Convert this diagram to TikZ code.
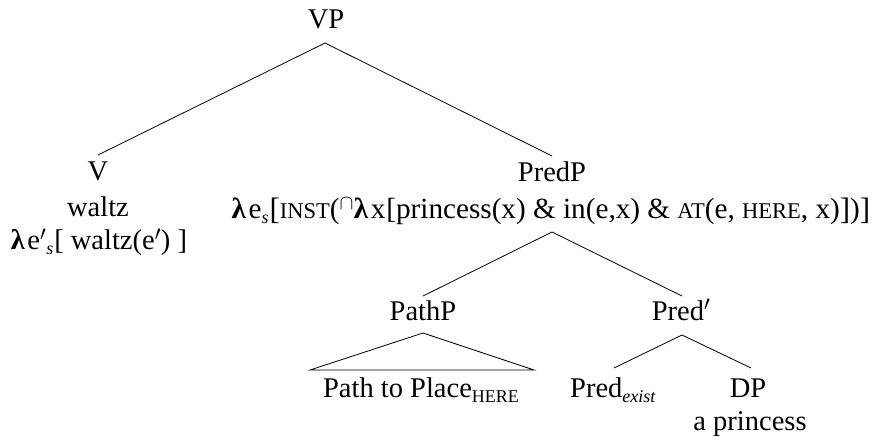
\documentclass[tikz,border=0pt]{standalone}
\usepackage{fontspec}
\setmainfont{Liberation Serif}
\newcommand\fsc[1]{{\fontsize{22.5}{22.5}\selectfont #1}}
\newcommand\subsc[1]{\raisebox{-5pt}{\fontsize{18}{18}\selectfont #1}}
\newcommand\lam{{\bfseries λ}\kern2.5pt}
\newcommand\bigbr[1]{\raisebox{-1pt}{\fontsize{31}{31}\selectfont #1}}
\begin{document}
\begin{tikzpicture}[x=1pt,y=-1pt,
  lbl/.style={anchor=base, inner sep=0pt, font=\fontsize{28.5}{34}\selectfont},
  edge/.style={line width=0.8pt}]
\useasboundingbox (0,0) rectangle (880,438);
% nodes
\node[lbl] (VP) at (326,29) {VP};
\node[lbl] (V) at (98,181) {V};
\node[lbl] (waltz) at (98,217) {waltz};
\node[lbl] (Vsem) at (99,250) {\lam e$'$\subsc{\textit{s}}\kern1pt[ waltz(e$'$) ]};
\node[lbl] (PredP) at (552,182) {PredP};
\node[lbl, font=\fontsize{29.2}{34}\selectfont] (PredPsem) at (551,219) {\lam e\subsc{\textit{s}}\kern1pt\bigbr{[}\fsc{INST}($^{\cap}$\lam x\kern1pt[princess(x) \& in(e,x) \& \fsc{AT}(e, \fsc{HERE}, x)\bigbr{]})\bigbr{]}};
\node[lbl] (PathP) at (423,320) {PathP};
\node[lbl] (Predbar) at (681,320) {Pred$'$};
\node[lbl] (Path) at (421,397) {Path to Place\subsc{HERE}};
\node[lbl] (Predex) at (613,397) {Pred\subsc{\textit{exist}}};
\node[lbl] (DP) at (748,397) {DP};
\node[lbl] (prin) at (750,430) {a princess};
% connector end points
\coordinate (VPb) at (325,43);
\coordinate (Vt) at (98,155);
\coordinate (PredPt) at (552,156);
\coordinate (PredPb) at (552,232);
\coordinate (PathPt) at (423,296);
\coordinate (Predbart) at (682,296);
\coordinate (PathPb) at (423,333);
\coordinate (TriL) at (310,370);
\coordinate (TriR) at (534,370);
\coordinate (Predbarb) at (682,335);
\coordinate (Predext) at (614,368);
\coordinate (DPt) at (751,368);
% connectors
\draw[edge] (Vt) -- (VPb) -- (PredPt);
\draw[edge] (PathPt) -- (PredPb) -- (Predbart);
\draw[edge] (PathPb) -- (TriL) -- (TriR) -- cycle;
\draw[edge] (Predext) -- (Predbarb) -- (DPt);
\end{tikzpicture}
\end{document}
